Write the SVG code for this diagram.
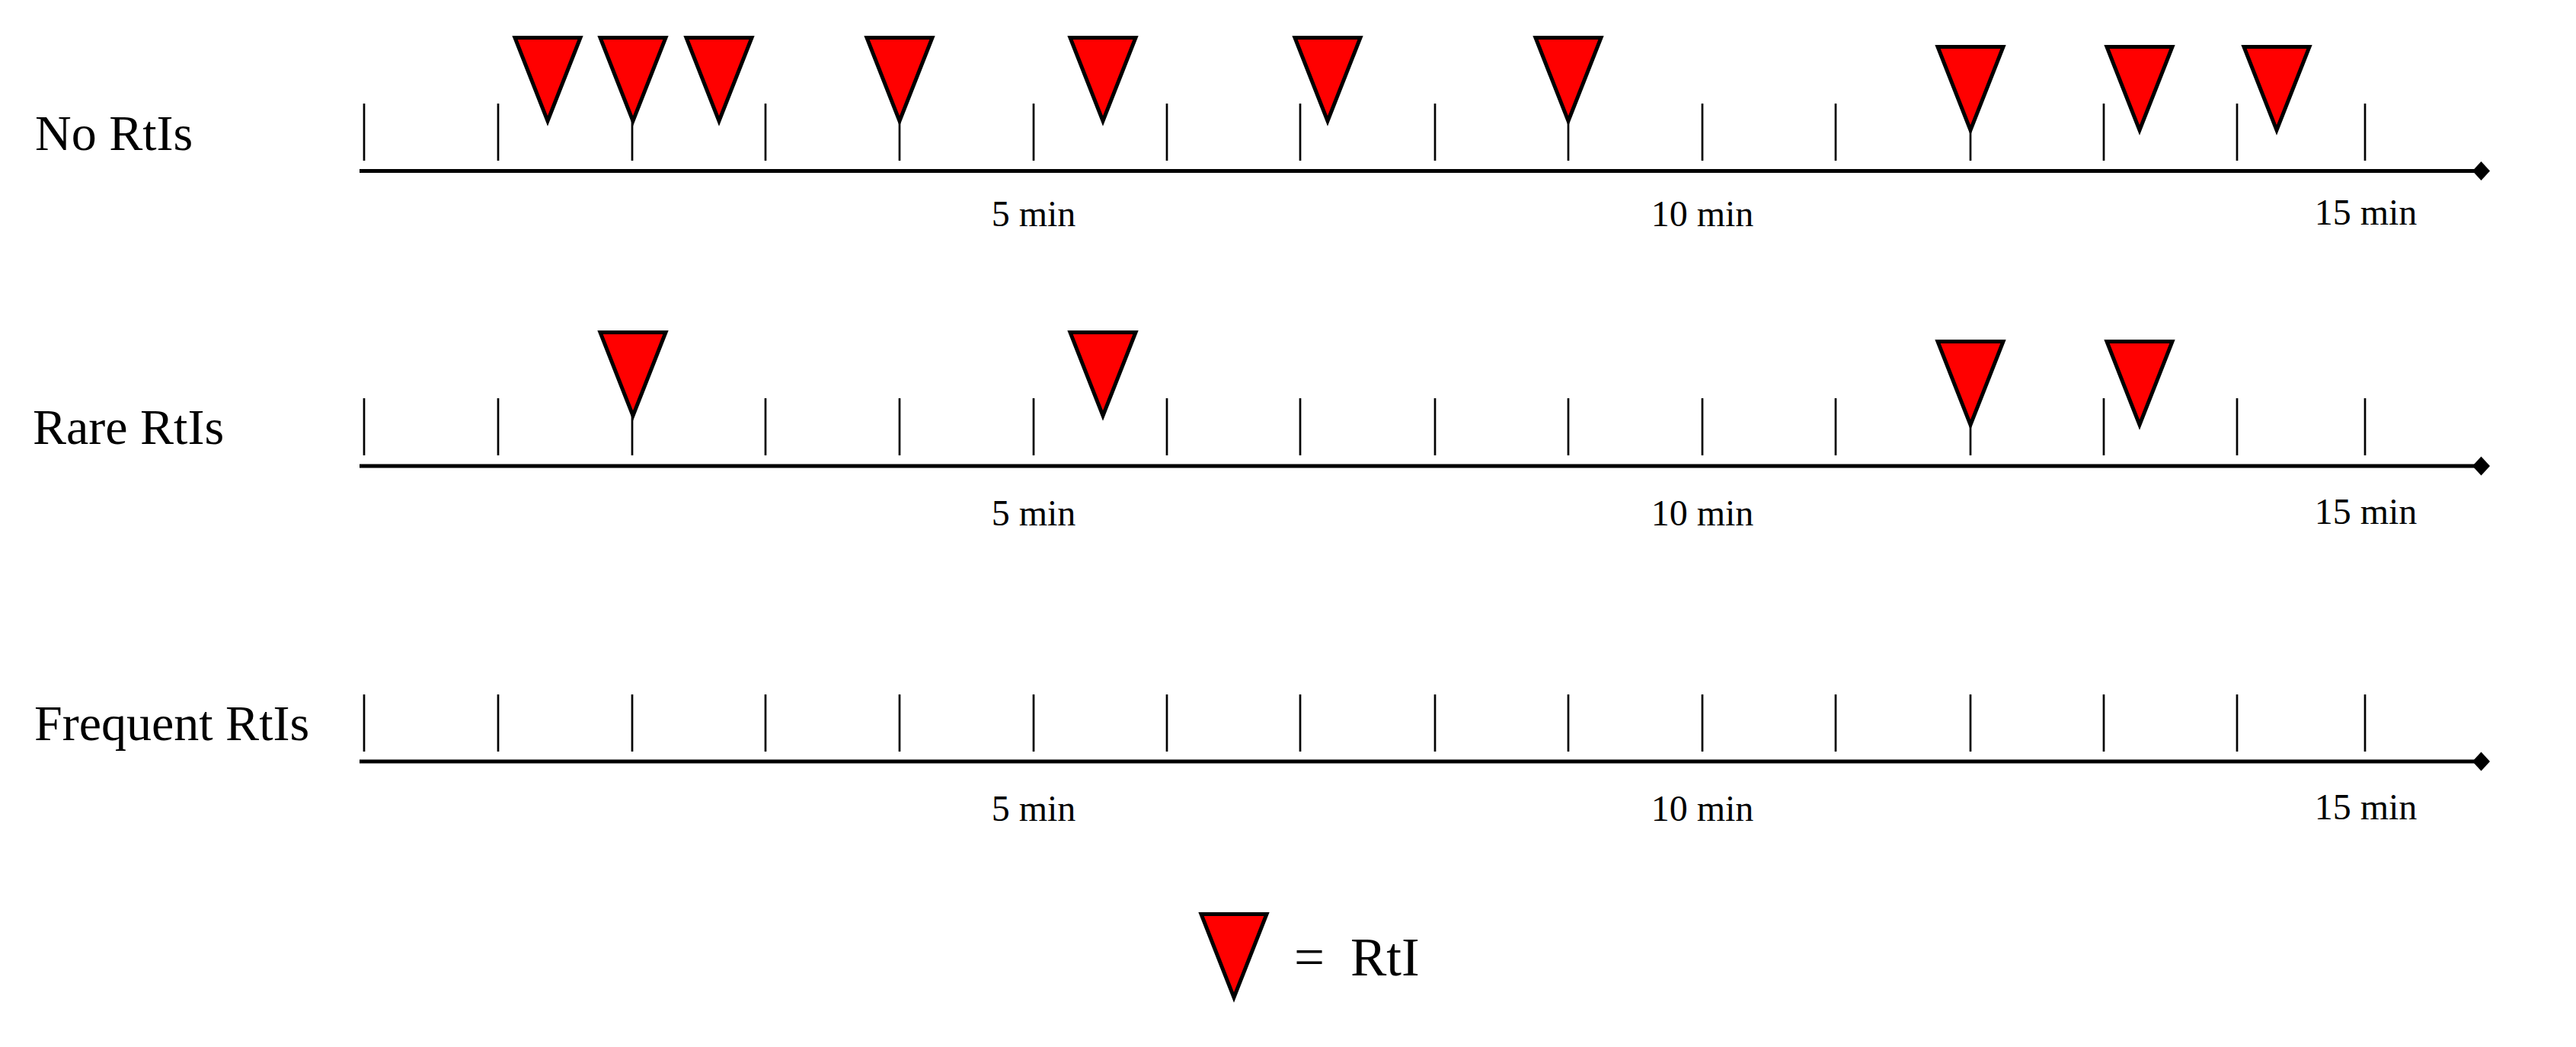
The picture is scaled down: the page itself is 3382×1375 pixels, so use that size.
<svg xmlns="http://www.w3.org/2000/svg" width="3382" height="1375" viewBox="0 0 3382 1375">
<style>
.lbl{font-family:"Liberation Serif","Times New Roman",serif;font-size:66px;fill:#000}
.tl{font-family:"Liberation Serif","Times New Roman",serif;font-size:48px;fill:#000;text-anchor:middle}
.leg{font-family:"Liberation Serif","Times New Roman",serif;font-size:71px;fill:#000}
.tick{stroke:#000;stroke-width:2.7}
.axis{stroke:#000;stroke-width:5}
.tri{fill:#ff0000;stroke:#000;stroke-width:5;stroke-linejoin:miter}
</style>
<defs>
<path id="tk" class="tick" d="M0,0 V75"/>
<path id="rti" class="tri" d="M-43,0 L43,0 L0,109.5 Z"/>
<g id="ticks">
<use href="#tk" x="478"/><use href="#tk" x="654"/><use href="#tk" x="830"/><use href="#tk" x="1005"/>
<use href="#tk" x="1181"/><use href="#tk" x="1357"/><use href="#tk" x="1532"/><use href="#tk" x="1707"/>
<use href="#tk" x="1884"/><use href="#tk" x="2059"/><use href="#tk" x="2235"/><use href="#tk" x="2410"/>
<use href="#tk" x="2587"/><use href="#tk" x="2762"/><use href="#tk" x="2937"/><use href="#tk" x="3105"/>
</g>
</defs>

<g id="row-no">
<text class="lbl" x="46" y="197">No RtIs</text>
<g id="connectors-row-no">
<use href="#ticks" y="136"/>
<line class="axis" x1="472" y1="224.5" x2="3252" y2="224.5"/>
<path d="M3246,224.5 L3257.5,212 L3269,224.5 L3257.5,237 Z" fill="#000"/>
</g>
<text class="tl" x="1357" y="297">5 min</text>
<text class="tl" x="2235" y="297">10 min</text>
<text class="tl" x="3106" y="295">15 min</text>
<g id="rtis-no">
<use href="#rti" x="719" y="49.5"/>
<use href="#rti" x="831" y="49.5"/>
<use href="#rti" x="944" y="49.5"/>
<use href="#rti" x="1181" y="49.5"/>
<use href="#rti" x="1448" y="49.5"/>
<use href="#rti" x="1743" y="49.5"/>
<use href="#rti" x="2059" y="49.5"/>
<use href="#rti" x="2587" y="61.5"/>
<use href="#rti" x="2809" y="61.5"/>
<use href="#rti" x="2989" y="61.5"/>
</g>
</g>

<g id="row-rare">
<text class="lbl" x="43" y="583">Rare RtIs</text>
<g id="connectors-row-rare">
<use href="#ticks" y="523"/>
<line class="axis" x1="472" y1="612" x2="3252" y2="612"/>
<path d="M3246,612 L3257.5,599.5 L3269,612 L3257.5,624.5 Z" fill="#000"/>
</g>
<text class="tl" x="1357" y="690">5 min</text>
<text class="tl" x="2235" y="690">10 min</text>
<text class="tl" x="3106" y="688">15 min</text>
<g id="rtis-rare">
<use href="#rti" x="831" y="436.5"/>
<use href="#rti" x="1448" y="436.5"/>
<use href="#rti" x="2587" y="448.5"/>
<use href="#rti" x="2809" y="448.5"/>
</g>
</g>

<g id="row-frequent">
<text class="lbl" x="45" y="972">Frequent RtIs</text>
<g id="connectors-row-frequent">
<use href="#ticks" y="912"/>
<line class="axis" x1="472" y1="1000" x2="3252" y2="1000"/>
<path d="M3246,1000 L3257.5,987.5 L3269,1000 L3257.5,1012.5 Z" fill="#000"/>
</g>
<text class="tl" x="1357" y="1078">5 min</text>
<text class="tl" x="2235" y="1078">10 min</text>
<text class="tl" x="3106" y="1076">15 min</text>
</g>

<g id="legend">
<use href="#rti" x="1620" y="1200.5"/>
<text class="leg" y="1281"><tspan x="1699">=</tspan><tspan x="1773">RtI</tspan></text>
</g>
</svg>
